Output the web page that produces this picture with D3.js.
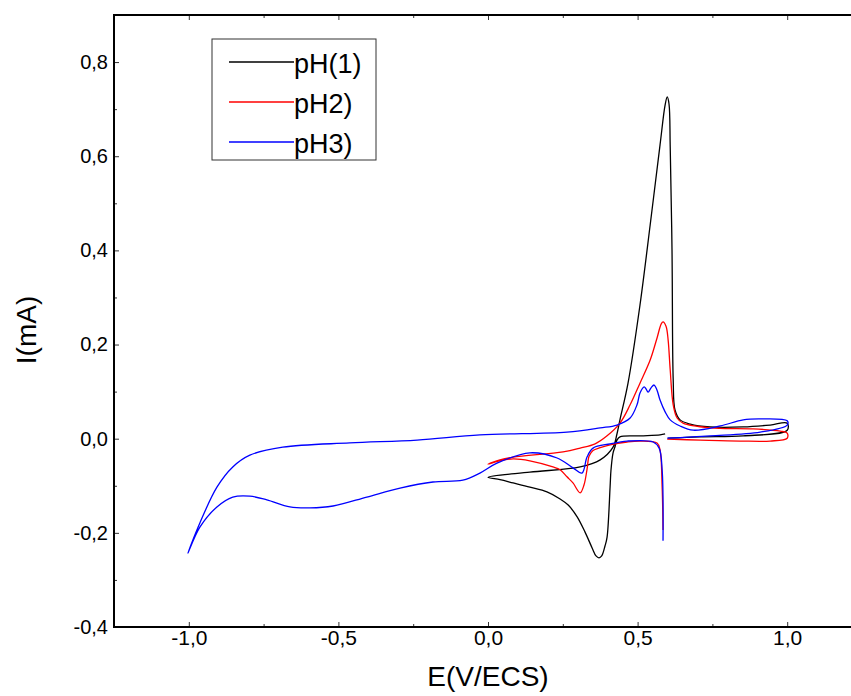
<!DOCTYPE html>
<html>
<head>
<meta charset="utf-8">
<script src="https://cdn.jsdelivr.net/npm/d3@7"></script>
<style>
body { margin: 0; background: #fff; }
text { font-family: "Liberation Sans", Arial, sans-serif; }
</style>
</head>
<body>
<svg></svg>
<script>
// Data: [E (V/ECS), I (mA)] in sweep order
const ph1 = [
  [0.592, 0.010], [0.575, 0.008], [0.510, 0.006], [0.441, 0.004], [0.431, -0.003],
  [0.425, -0.016], [0.418, -0.030], [0.411, -0.067], [0.408, -0.103], [0.398, -0.209],
  [0.391, -0.228], [0.380, -0.249], [0.371, -0.253], [0.361, -0.249], [0.348, -0.232],
  [0.324, -0.198], [0.298, -0.166], [0.268, -0.141], [0.241, -0.128],
  [0.197, -0.113], [0.140, -0.103], [0.084, -0.094], [0.040, -0.087], [0.0, -0.082],
  [0.140, -0.071], [0.308, -0.060], [0.375, -0.045], [0.418, -0.018], [0.431, 0.010],
  [0.441, 0.040], [0.468, 0.118], [0.508, 0.284], [0.542, 0.454], [0.575, 0.624],
  [0.592, 0.709], [0.599, 0.726], [0.605, 0.711], [0.609, 0.620], [0.615, 0.401],
  [0.619, 0.125], [0.625, 0.061], [0.642, 0.040], [0.676, 0.031], [0.742, 0.025],
  [0.853, 0.025], [0.943, 0.029], [1.0, 0.033], [1.0, 0.018], [0.853, 0.006],
  [0.709, 0.004], [0.602, 0.001]
];

const ph2 = [
  [0.585, -0.194], [0.582, -0.103], [0.575, -0.024], [0.565, -0.009], [0.508, -0.005],
  [0.465, -0.007], [0.408, -0.013], [0.375, -0.019], [0.351, -0.025], [0.338, -0.037],
  [0.331, -0.065], [0.321, -0.098], [0.308, -0.115], [0.284, -0.094], [0.264, -0.081],
  [0.241, -0.066], [0.217, -0.060], [0.140, -0.047], [0.084, -0.043], [0.040, -0.047],
  [0.0, -0.054], [0.040, -0.045], [0.084, -0.039], [0.251, -0.028], [0.308, -0.020],
  [0.358, -0.011], [0.398, 0.006], [0.441, 0.033], [0.475, 0.072], [0.508, 0.118],
  [0.542, 0.167], [0.565, 0.214], [0.579, 0.244], [0.585, 0.248], [0.595, 0.239],
  [0.602, 0.210], [0.609, 0.146], [0.619, 0.072], [0.632, 0.044], [0.652, 0.033],
  [0.742, 0.023], [0.886, 0.021], [0.977, 0.016], [1.0, 0.012], [1.0, 0.001],
  [0.943, -0.005], [0.843, -0.005], [0.709, -0.003], [0.599, -0.001]
];

const ph3 = [
  [0.585, -0.217], [0.582, -0.066], [0.572, -0.020], [0.552, -0.007], [0.465, -0.005],
  [0.408, -0.011], [0.351, -0.020], [0.331, -0.039], [0.314, -0.073], [0.284, -0.062],
  [0.231, -0.041], [0.140, -0.030], [0.030, -0.052], [-0.027, -0.073], [-0.084, -0.088],
  [-0.184, -0.092], [-0.294, -0.105], [-0.405, -0.124], [-0.518, -0.143], [-0.595, -0.147],
  [-0.662, -0.145], [-0.739, -0.130], [-0.796, -0.122], [-0.853, -0.124], [-0.906, -0.145],
  [-0.963, -0.188], [-1.003, -0.243], [-0.963, -0.179], [-0.906, -0.103], [-0.853, -0.060],
  [-0.796, -0.035], [-0.686, -0.018], [-0.462, -0.009], [-0.237, -0.003], [-0.027, 0.008],
  [0.264, 0.014], [0.375, 0.023], [0.431, 0.029], [0.475, 0.044], [0.498, 0.072],
  [0.508, 0.097], [0.522, 0.110], [0.528, 0.106], [0.535, 0.099], [0.545, 0.108],
  [0.555, 0.114], [0.565, 0.103], [0.575, 0.082], [0.592, 0.057], [0.609, 0.040],
  [0.642, 0.027], [0.686, 0.018], [0.776, 0.027], [0.853, 0.040], [0.910, 0.042],
  [1.0, 0.038], [1.0, 0.029], [0.910, 0.014], [0.742, 0.006], [0.599, 0.001]
];

const seriesNames = ['pH(1)', 'pH2)', 'pH3)'];
const seriesColors = ['#000000', '#ff0000', '#0000ff'];
const xTicks = [-1.0, -0.5, 0.0, 0.5, 1.0];
const xMinor = [-1.25, -0.75, -0.25, 0.25, 0.75, 1.25];
const yTicks = [-0.4, -0.2, 0.0, 0.2, 0.4, 0.6, 0.8];
const yMinor = [-0.3, -0.1, 0.1, 0.3, 0.5, 0.7, 0.9];

const svg = d3.select('svg')
  .attr('width', 851)
  .attr('height', 696);

const x = d3.scaleLinear().domain([-1.25, 1.25]).range([114, 862]);
const y = d3.scaleLinear().domain([-0.4, 0.9]).range([627, 15]);

const fmt = d => d3.format('.1f')(d).replace('.', ',').replace('−', '-');

// Axes (ticks pointing inward)
const gx = svg.append('g')
  .attr('transform', 'translate(0,627)')
  .call(d3.axisBottom(x).tickValues(xTicks).tickSize(-5).tickPadding(3).tickFormat(fmt));
svg.append('g')
  .attr('transform', 'translate(0,627)')
  .call(d3.axisBottom(x).tickValues(xMinor).tickSize(-3).tickFormat(''));
svg.append('g')
  .attr('transform', 'translate(0,15)')
  .call(d3.axisTop(x).tickValues(xTicks).tickSize(-5).tickFormat(''));
svg.append('g')
  .attr('transform', 'translate(0,15)')
  .call(d3.axisTop(x).tickValues(xMinor).tickSize(-3).tickFormat(''));
const gy = svg.append('g')
  .attr('transform', 'translate(114,0)')
  .call(d3.axisLeft(y).tickValues(yTicks).tickSize(-5).tickPadding(6).tickFormat(fmt));
svg.append('g')
  .attr('transform', 'translate(114,0)')
  .call(d3.axisLeft(y).tickValues(yMinor).tickSize(-3).tickFormat(''));

svg.selectAll('.domain').remove();
svg.selectAll('.tick line').attr('stroke', '#333').attr('stroke-width', 1);
svg.selectAll('.tick text')
  .attr('fill', '#000')
  .attr('font-family', '"Liberation Sans", Arial, sans-serif');
gx.selectAll('.tick text').attr('font-size', 21);
gy.selectAll('.tick text').attr('font-size', 20);

// Frame
svg.append('rect')
  .attr('x', x(-1.25))
  .attr('y', y(0.9))
  .attr('width', x(1.25) - x(-1.25))
  .attr('height', y(-0.4) - y(0.9))
  .attr('fill', 'none')
  .attr('stroke', '#000')
  .attr('stroke-width', 2);

// Curves
const line = d3.line()
  .x(d => x(d[0]))
  .y(d => y(d[1]))
  .curve(d3.curveCatmullRom.alpha(0.5));

[ph1, ph2, ph3].forEach((s, i) => {
  svg.append('path')
    .datum(s)
    .attr('d', line)
    .attr('fill', 'none')
    .attr('stroke', seriesColors[i])
    .attr('stroke-width', 1.3);
});

// Axis titles
svg.append('text')
  .attr('x', 488)
  .attr('y', 686)
  .attr('text-anchor', 'middle')
  .attr('font-size', 28)
  .text('E(V/ECS)');

svg.append('text')
  .attr('transform', 'translate(36,330) rotate(-90)')
  .attr('text-anchor', 'middle')
  .attr('font-size', 28)
  .text('I(mA)');

// Legend
const legend = svg.append('g');
legend.append('rect')
  .attr('x', 212)
  .attr('y', 39)
  .attr('width', 164)
  .attr('height', 121)
  .attr('fill', '#fff')
  .attr('stroke', '#333')
  .attr('stroke-width', 1);

seriesNames.forEach((name, i) => {
  const ly = 62 + i * 40;
  legend.append('line')
    .attr('x1', 229).attr('x2', 294)
    .attr('y1', ly).attr('y2', ly)
    .attr('stroke', seriesColors[i])
    .attr('stroke-width', 1.3);
  legend.append('text')
    .attr('x', 294)
    .attr('y', ly + 11)
    .attr('font-size', 27)
    .text(name);
});
</script>
</body>
</html>
